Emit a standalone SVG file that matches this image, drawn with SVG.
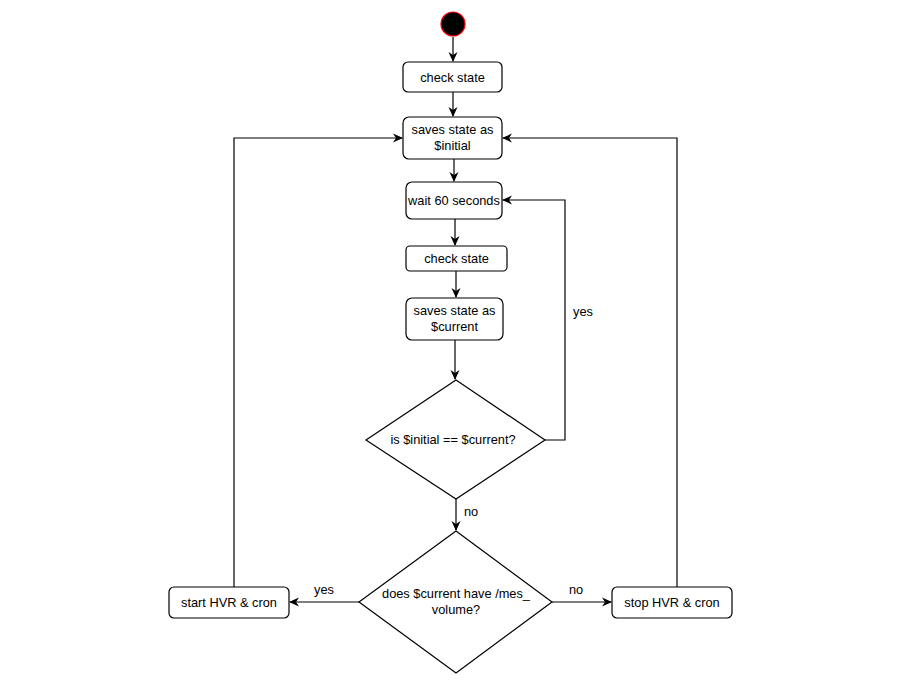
<svg xmlns="http://www.w3.org/2000/svg" width="904" height="682" viewBox="0 0 904 682">
<style>
.n{fill:#fff;stroke:#000;stroke-width:1.2}
.t{font-family:"Liberation Sans",Arial,sans-serif;font-size:12.8px;fill:#000;text-anchor:middle}
.c{fill:none;stroke:#000;stroke-width:1.2}
</style>
<defs>
<marker id="a" viewBox="0 0 10 10" refX="9" refY="5" markerWidth="10" markerHeight="10" orient="auto" markerUnits="userSpaceOnUse">
<path d="M0,0.5 L10,5 L0,9.5 L3,5 Z" fill="#000"/>
</marker>
</defs>
<rect width="904" height="682" fill="#fff"/>
<g id="connectors">
<path class="c" d="M453,37 V61" marker-end="url(#a)"/>
<path class="c" d="M453,92 V116" marker-end="url(#a)"/>
<path class="c" d="M454,159 V181" marker-end="url(#a)"/>
<path class="c" d="M455,219 V245" marker-end="url(#a)"/>
<path class="c" d="M456,271 V297" marker-end="url(#a)"/>
<path class="c" d="M455,340 V379" marker-end="url(#a)"/>
<path class="c" d="M545,440 H565 V200 H503" marker-end="url(#a)"/>
<path class="c" d="M456,499 V530" marker-end="url(#a)"/>
<path class="c" d="M359,602 H290" marker-end="url(#a)"/>
<path class="c" d="M552,602 H611" marker-end="url(#a)"/>
<path class="c" d="M234,587 V138 H402" marker-end="url(#a)"/>
<path class="c" d="M677,587 V138 H503" marker-end="url(#a)"/>
<text class="t" x="583" y="316">yes</text>
<text class="t" x="471" y="516">no</text>
<text class="t" x="324" y="594">yes</text>
<text class="t" x="576" y="594">no</text>
</g>
<g id="start"><circle cx="453" cy="24" r="12" fill="#000" stroke="#ff0000" stroke-width="1.2"/></g>
<g id="check1"><rect class="n" x="403" y="62" width="99" height="30" rx="5"/><text class="t" x="452.5" y="81.5">check state</text></g>
<g id="saveInitial"><rect class="n" x="403" y="117" width="99" height="42" rx="6"/><text class="t" x="452.5" y="134">saves state as</text><text class="t" x="452.5" y="150">$initial</text></g>
<g id="wait"><rect class="n" x="406" y="182" width="96" height="37" rx="6"/><text class="t" x="454" y="204.5">wait 60 seconds</text></g>
<g id="check2"><rect class="n" x="406" y="246" width="101" height="25" rx="4"/><text class="t" x="456.5" y="263">check state</text></g>
<g id="saveCurrent"><rect class="n" x="406" y="298" width="97" height="42" rx="6"/><text class="t" x="454.5" y="315">saves state as</text><text class="t" x="454.5" y="331">$current</text></g>
<g id="decision1"><path class="n" d="M456,380 L545,440 L456,499 L366,440 Z"/><text class="t" x="453" y="444">is $initial == $current?</text></g>
<g id="decision2"><path class="n" d="M456,531 L552,602 L456,673 L359,602 Z"/><text class="t" x="456" y="598">does $current have /mes_</text><text class="t" x="456" y="614">volume?</text></g>
<g id="startHVR"><rect class="n" x="169" y="587" width="120" height="31" rx="5"/><text class="t" x="229" y="607">start HVR &amp; cron</text></g>
<g id="stopHVR"><rect class="n" x="612" y="587" width="120" height="31" rx="5"/><text class="t" x="672" y="607">stop HVR &amp; cron</text></g>
</svg>
